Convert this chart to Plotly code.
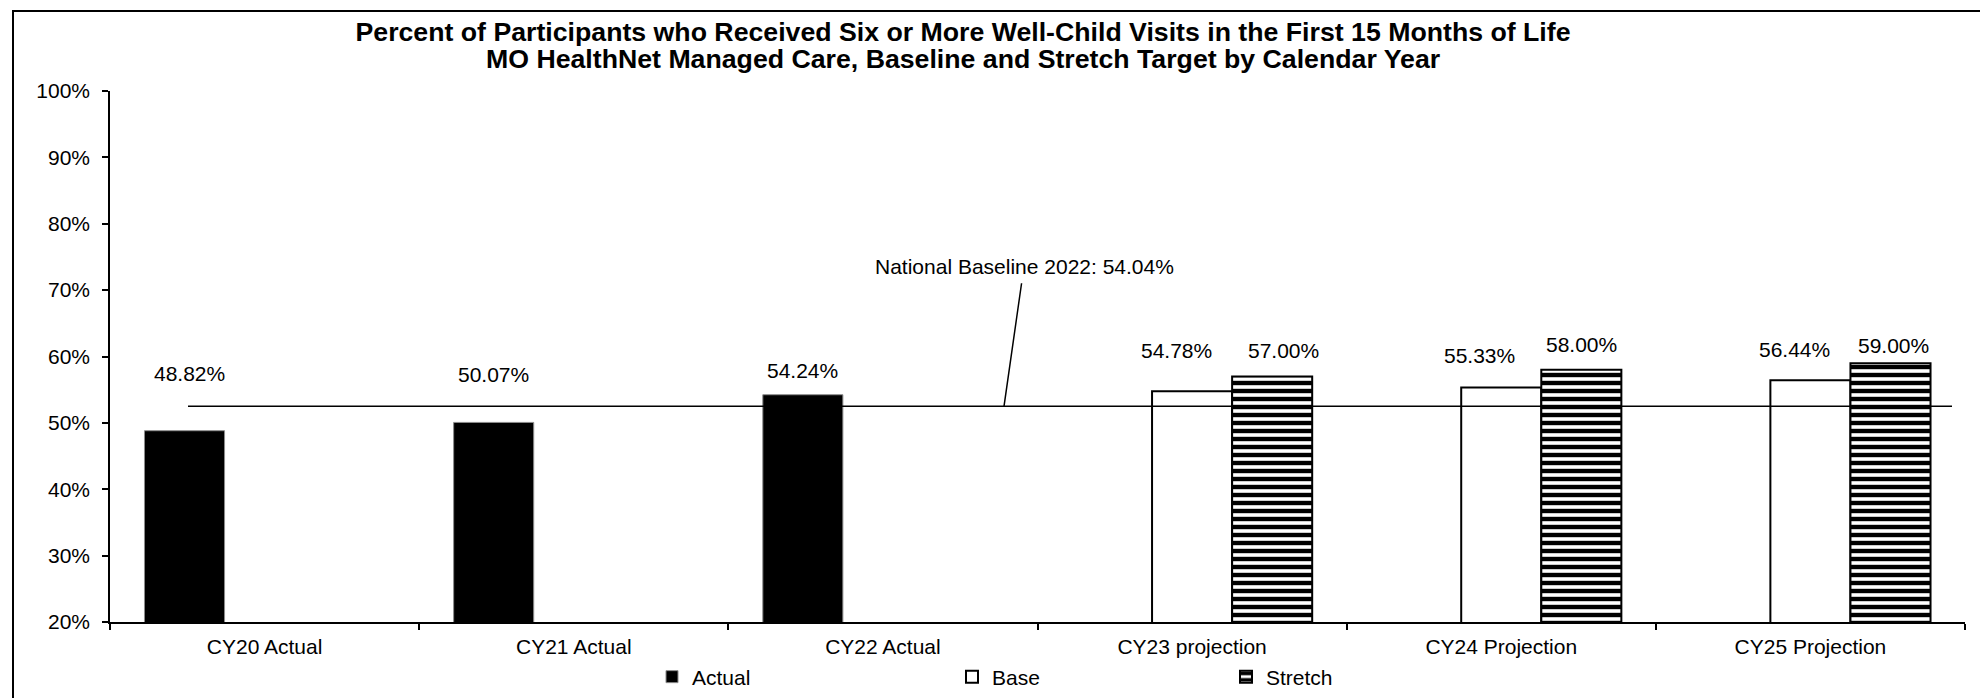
import plotly.graph_objects as go

# ---------------- data ----------------
categories = ["CY20 Actual", "CY21 Actual", "CY22 Actual",
              "CY23 projection", "CY24 Projection", "CY25 Projection"]
actual = [48.82, 50.07, 54.24, None, None, None]
base = [None, None, None, 54.78, 55.33, 56.44]
stretch = [None, None, None, 57.00, 58.00, 59.00]
national_baseline_label = "National Baseline 2022: 54.04%"
national_baseline_drawn = 52.5   # level where the reference line is drawn

title_line1 = "Percent of Participants who Received Six or More Well-Child Visits in the First 15 Months of Life"
title_line2 = "MO HealthNet Managed Care, Baseline and Stretch Target by Calendar Year"

# ---------------- layout constants ----------------
# target positions are given in window pixels; the page body adds an 8px offset
OFF = 8
WIN_W, WIN_H = 1988, 698
W, H = WIN_W - OFF, WIN_H - OFF
PL, PR, PT, PB = 110, 1965, 91, 622          # plot area in window pixels
L, T = PL - OFF, PT - OFF
R, B = (WIN_W - PR), (WIN_H - PB)
plot_w = PR - PL
plot_h = PB - PT
FONT = "Liberation Sans, Arial, sans-serif"
FS = 21
TFS = 26.7
BARGAP = 0.223

def px_x(px):  # window pixel -> paper x
    return (px - PL) / plot_w

def px_y(py):  # window pixel -> paper y
    return (PB - py) / plot_h

fig = go.Figure()
fig.add_trace(go.Bar(name="Actual", x=categories, y=actual, showlegend=True,
                     marker=dict(color="black", line=dict(color="#8c8c8c", width=1)),
                     legend="legend"))
fig.add_trace(go.Bar(name="Base", x=categories, y=base, showlegend=True,
                     marker=dict(color="white", line=dict(color="black", width=2)),
                     legend="legend2"))
fig.add_trace(go.Bar(name="Stretch", x=categories, y=stretch, showlegend=True,
                     marker=dict(color="white", line=dict(color="black", width=2),
                                 pattern=dict(shape="-", fgcolor="black", bgcolor="white",
                                              size=8, solidity=0.55, fillmode="replace")),
                     legend="legend3"))

# data labels (manually placed in the source chart: pixel offsets above bar tops)
label_shift = {  # (series index, category index): (xshift px, yshift px)
    (0, 0): (5, 57), (0, 1): (0, 48), (0, 2): (0, 24),
    (1, 3): (-16, 41), (2, 3): (11, 26),
    (1, 4): (-22, 32), (2, 4): (0, 25),
    (1, 5): (-16, 31), (2, 5): (3, 18),
}
series = [actual, base, stretch]
slot_w = (1 - BARGAP) / 3
for si, vals in enumerate(series):
    for ci, v in enumerate(vals):
        if v is None:
            continue
        dx, dy = label_shift[(si, ci)]
        fig.add_annotation(x=ci + (si - 1) * slot_w, y=v, xref="x", yref="y",
                           text=f"{v:.2f}%", showarrow=False,
                           xanchor="center", yanchor="middle",
                           xshift=dx, yshift=dy,
                           font=dict(family=FONT, size=FS, color="black"))

# national baseline line
fig.add_shape(type="line", xref="paper", yref="y",
              x0=px_x(188), x1=px_x(1952),
              y0=national_baseline_drawn, y1=national_baseline_drawn,
              line=dict(color="black", width=1.5))
fig.add_annotation(x=px_x(1004), y=national_baseline_drawn, xref="paper", yref="y",
                   text=national_baseline_label, showarrow=True,
                   arrowhead=0, arrowwidth=1.5, arrowcolor="black",
                   ax=20, ay=-140, axref="pixel", ayref="pixel",
                   startstandoff=4,
                   font=dict(family=FONT, size=FS, color="black"))

# second title line
fig.add_annotation(x=px_x(963), y=px_y(59), xref="paper", yref="paper",
                   text="<b>" + title_line2 + "</b>", showarrow=False,
                   xanchor="center", yanchor="middle",
                   font=dict(family=FONT, size=TFS, color="black"))

# outer chart border
fig.add_shape(type="rect", xref="paper", yref="paper",
              x0=px_x(13), x1=px_x(1982), y0=px_y(720), y1=px_y(11),
              line=dict(color="black", width=2), fillcolor="rgba(0,0,0,0)", layer="below")

legend_common = dict(orientation="h", yanchor="middle", xanchor="left", y=px_y(677),
                     font=dict(family=FONT, size=FS, color="black"),
                     bgcolor="rgba(0,0,0,0)", borderwidth=0, itemclick=False,
                     itemdoubleclick=False)

fig.update_layout(
    width=W, height=H,
    margin=dict(l=L, r=R, t=T, b=B, autoexpand=False),
    paper_bgcolor="white", plot_bgcolor="white",
    showlegend=True,
    barmode="group", bargap=BARGAP, bargroupgap=0,
    font=dict(family=FONT, size=FS, color="black"),
    title=dict(text="<b>" + title_line1 + "</b>",
               x=(963 - OFF) / W, xref="container", xanchor="center",
               y=1 - (32 - OFF) / H, yref="container", yanchor="middle",
               font=dict(family=FONT, size=TFS, color="black")),
    legend=dict(x=px_x(652), **legend_common),
    legend2=dict(x=px_x(952), **legend_common),
    legend3=dict(x=px_x(1226), **legend_common),
    xaxis=dict(showline=True, linecolor="black", linewidth=1.5, automargin=False,
               ticks="outside", tickson="boundaries", ticklen=6, tickcolor="black", tickwidth=1.5,
               ticklabelstandoff=5,
               showgrid=False, tickfont=dict(family=FONT, size=FS, color="black"),
               fixedrange=True),
    yaxis=dict(range=[20, 100], dtick=10, ticksuffix="%", automargin=False,
               showline=True, linecolor="black", linewidth=1.5,
               ticks="outside", ticklen=6, tickcolor="black", tickwidth=1.5,
               showgrid=False, zeroline=False, ticklabelstandoff=8,
               tickfont=dict(family=FONT, size=FS, color="black"),
               fixedrange=True),
)

fig.write_html("out.html")
